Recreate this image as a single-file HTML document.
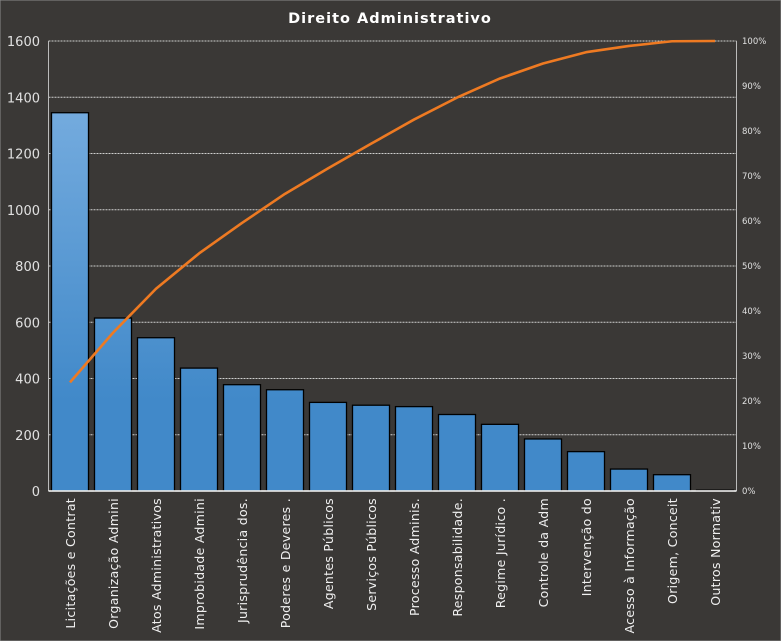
<!DOCTYPE html><html><head><style>body{margin:0;background:#3a3836}svg{display:block}</style></head><body>
<svg id="s" width="781" height="641" xmlns="http://www.w3.org/2000/svg" font-family="DejaVu Sans, Liberation Sans, sans-serif">
<defs><linearGradient id="g" gradientUnits="userSpaceOnUse" x1="0" y1="110" x2="0" y2="400"><stop offset="0" stop-color="#74abde"/><stop offset="1" stop-color="#4189c9"/></linearGradient></defs>
<rect x="0" y="0" width="781" height="641" fill="#3a3836" stroke="#8a8a8a"/>
<text x="390" y="23" fill="#fff" font-size="14.5" font-weight="bold" text-anchor="middle" letter-spacing="1">Direito  Administrativo</text>
<g id="c"></g>
</svg>
<script>
var c=document.getElementById('c'),h='';
var L=48.5,R=736.5,T=41,B=491,W=(R-L)/16;
var v=[1345,615,545,437,378,360,315,305,300,272,237,185,140,78,58,3];
var n=["Licitações e Contrat","Organização Admini","Atos Administrativos","Improbidade  Admini","Jurisprudência dos.","Poderes e Deveres .","Agentes Públicos","Serviços Públicos","Processo Adminis.","Responsabilidade.","Regime Jurídico .","Controle da Adm","Intervenção do","Acesso à Informação","Origem, Conceit","Outros Normativ"];
for(var i=0;i<=8;i++){var y=B-i*(B-T)/8;
if(i>0)h+='<line x1="'+L+'" x2="'+R+'" y1="'+y+'" y2="'+y+'" stroke="#cfcfcf" stroke-dasharray="2,1" stroke-width="1"/>';
h+='<text x="40" y="'+(y+5)+'" fill="#e0e0e0" font-size="13" text-anchor="end">'+(i*200)+'</text>';}
for(var i=0;i<=10;i++){var y=B-i*(B-T)/10;h+='<text x="742" y="'+(y+3)+'" fill="#e0e0e0" font-size="8.5">'+(i*10)+'%</text>';}
var tot=v.reduce(function(a,b){return a+b},0),cum=0,pts=[];
for(var i=0;i<16;i++){var x=L+i*W+3,bh=v[i]*(B-T)/1600;
h+='<rect x="'+x+'" y="'+(B-bh)+'" width="'+(W-6)+'" height="'+bh+'" fill="url(#g)" stroke="#000" stroke-width="1.3"/>';
cum+=v[i];pts.push((L+i*W+W/2)+','+(B-cum/tot*(B-T)));
var cx=L+i*W+W/2+5;h+='<text transform="translate('+cx+',498) rotate(-90)" fill="#f0f0f0" font-size="12.5" text-anchor="end" letter-spacing="0.3">'+n[i]+'</text>';}
h+='<line x1="'+L+'" x2="'+L+'" y1="'+T+'" y2="'+B+'" stroke="#bbb"/><line x1="'+R+'" x2="'+R+'" y1="'+T+'" y2="'+B+'" stroke="#bbb"/><line x1="'+L+'" x2="'+R+'" y1="'+B+'" y2="'+B+'" stroke="#fff" stroke-width="1.5"/>';
h+='<polyline points="'+pts.join(' ')+'" fill="none" stroke="#ee7a22" stroke-width="2.6" stroke-linejoin="round"/>';
c.innerHTML=h;
</script></body></html>
